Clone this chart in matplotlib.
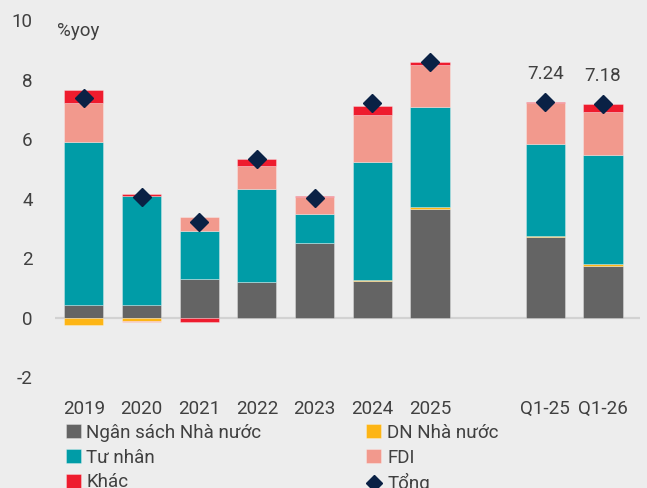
import numpy as np
import matplotlib.pyplot as plt
from matplotlib.lines import Line2D

plt.rcParams['font.family'] = ['Roboto', 'DejaVu Sans']
plt.rcParams['axes.unicode_minus'] = False

# data (%yoy contributions)
labels = ["2019", "2020", "2021", "2022", "2023", "2024", "2025", "Q1-25", "Q1-26"]
xpos = [0, 1, 2, 3, 4, 5, 6, 8, 9]
ngan_sach = [0.44, 0.44, 1.31, 1.19, 2.51, 1.22, 3.66, 2.72, 1.73]
dn_nha_nuoc = [-0.25, -0.12, 0.0, 0.0, 0.0, 0.05, 0.05, 0.04, 0.07]
tu_nhan = [5.48, 3.66, 1.60, 3.12, 0.97, 3.97, 3.37, 3.08, 3.67]
fdi = [1.28, -0.03, 0.48, 0.78, 0.57, 1.56, 1.40, 1.37, 1.45]
khac = [0.44, 0.06, -0.13, 0.25, 0.04, 0.30, 0.12, 0.03, 0.26]
tong = [7.37, 4.07, 3.22, 5.32, 4.02, 7.20, 8.60, 7.24, 7.18]
label_idx = [7, 8]

series = [
    ("Ngân sách Nhà nước", ngan_sach, "#646464"),
    ("DN Nhà nước", dn_nha_nuoc, "#FDB515"),
    ("Tư nhân", tu_nhan, "#009CA7"),
    ("FDI", fdi, "#F2998D"),
    ("Khác", khac, "#EE1C2E"),
]

bg = "#EDEDED"
navy = "#0A2145"
fig = plt.figure(figsize=(6.47, 4.88), dpi=100, facecolor=bg)
ax = fig.add_axes([0.085, 0.197, 0.904, 0.766], facecolor=bg)

x = np.array(xpos, dtype=float)
pos_base = np.zeros(len(x))
neg_base = np.zeros(len(x))
handles = {}
for name, vals, col in series:
    v = np.array(vals)
    bottom = np.where(v >= 0, pos_base, neg_base)
    b = ax.bar(x, v, width=0.68, bottom=bottom, color=col,
               edgecolor=(1, 1, 1, 0.35), linewidth=0.6, label=name, zorder=2)
    handles[name] = b
    pos_base += np.where(v >= 0, v, 0)
    neg_base += np.where(v < 0, v, 0)

ax.plot(x, tong, linestyle="none", marker="D", markersize=9.5,
        color=navy, zorder=4)

for i in label_idx:
    ax.annotate(f"{tong[i]:.2f}", (x[i], tong[i]), xytext=(0, 14),
                textcoords="offset points", ha="center", va="bottom",
                fontsize=13.5, color="#404040")

ax.axhline(0, color="#D2D2D2", linewidth=1.6, zorder=1)

ax.set_xlim(-0.5, 9.64)
ax.set_ylim(-2.49, 10.07)
ax.set_yticks([-2, 0, 2, 4, 6, 8, 10])
ax.set_xticks(x)
ax.set_xticklabels(labels)
ax.tick_params(axis="both", length=0, labelsize=13.5, colors="#404040")
ax.tick_params(axis="y", pad=16)
ax.tick_params(axis="x", pad=6)
for s in ax.spines.values():
    s.set_visible(False)

ax.text(0.003, 0.965, "%yoy", transform=ax.transAxes, ha="left", va="center",
        fontsize=13.5, color="#404040")

mk = Line2D([], [], linestyle="none", marker="D", markersize=8, color=navy)
leg_items = [handles["Ngân sách Nhà nước"], handles["Tư nhân"], handles["Khác"],
             handles["DN Nhà nước"], handles["FDI"], mk]
leg_names = ["Ngân sách Nhà nước", "Tư nhân", "Khác", "DN Nhà nước", "FDI", "Tổng"]
fig.legend(leg_items, leg_names, ncol=2, loc="upper left",
           bbox_to_anchor=(0.09, 0.147), frameon=False, fontsize=13.5,
           handlelength=0.8, handleheight=0.8, handletextpad=0.3,
           labelspacing=0.36, columnspacing=5.6, borderaxespad=0,
           labelcolor="#404040")

fig.savefig("out.png", dpi=100, facecolor=bg)
